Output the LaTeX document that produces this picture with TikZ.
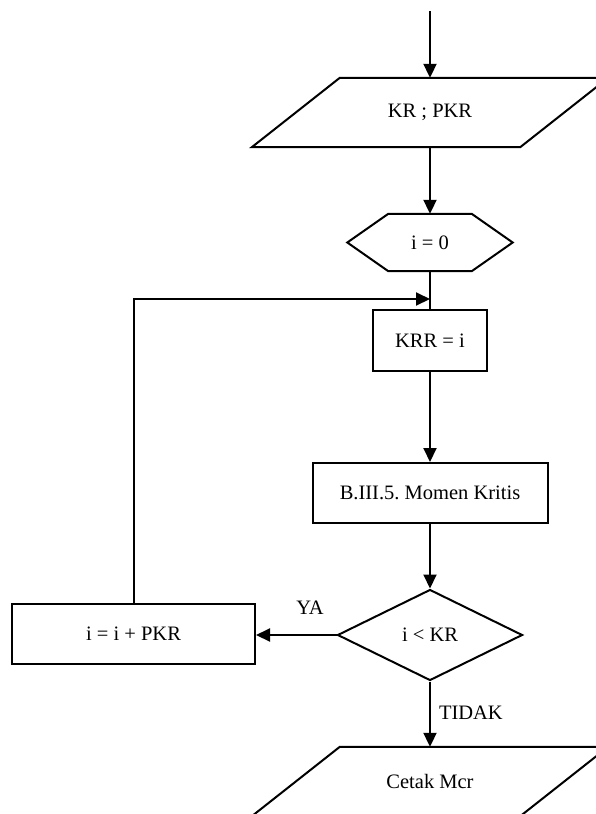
\documentclass[tikz,border=0pt]{standalone}
\usepackage{fontspec}
\setmainfont{Liberation Serif}
\usetikzlibrary{arrows.meta,shapes.geometric,calc}
\frenchspacing
\begin{document}
\begin{tikzpicture}[x=1pt,y=-1pt,
  every node/.style={font=\fontsize{20.5}{24}\selectfont, inner sep=0pt},
  line/.style={line width=2pt},
  flow/.style={line, -{Triangle[length=14pt,width=13pt]}},
  procbox/.style={draw, line width=2pt, rectangle},
]
\clip (0,0) rectangle (596,814);
\useasboundingbox (0,0) rectangle (596,814);

% input: KR ; PKR
\node (input) [minimum width=356pt, minimum height=69pt] at (430,112.5) {KR ; PKR};
\draw[line] ($(input.north west)+(88,0)$) -- (input.north east)
  -- ($(input.south east)+(-88,0)$) -- (input.south west) -- cycle;

% preparation: i = 0
\node (init) [minimum width=165pt, minimum height=57pt] at (430,242.5) {i = 0};
\draw[line] ($(init.north west)+(41,0)$) -- ($(init.north east)+(-41,0)$)
  -- (init.east) -- ($(init.south east)+(-41,0)$)
  -- ($(init.south west)+(41,0)$) -- (init.west) -- cycle;

% process boxes
\node (krr) [procbox, minimum width=114pt, minimum height=61pt] at (430,340.5) {KRR = i};
\node (momen) [procbox, minimum width=235pt, minimum height=60pt] at (430,493) {B.III.5. Momen Kritis};

% decision
\node (dec) [draw, line width=2pt, diamond, minimum width=185pt, minimum height=91pt] at (430,635) {i < KR};

% increment
\node (inc) [procbox, minimum width=243pt, minimum height=60pt] at (133.5,634) {i = i + PKR};

% output: Cetak Mcr
\node (output) [minimum width=356pt, minimum height=69pt] at (430,781.5) {Cetak Mcr};
\draw[line] ($(output.north west)+(88,0)$) -- (output.north east)
  -- ($(output.south east)+(-88,0)$) -- (output.south west) -- cycle;

% connectors
\coordinate (start) at (430,11);
\coordinate (join) at (430,299);
\draw[flow] (start) -- (input.north);
\draw[flow] (input.south) -- (init.north);
\draw[line] (init.south) -- (krr.north);
\draw[flow] (krr.south) -- (momen.north);
\draw[flow] (momen.south) -- (dec.north);
\draw[flow] (dec.west) -- node[pos=0.33, above=20pt] (ya) {YA} (inc.east |- dec.west);
\draw[flow] (inc.north) -- (inc.north |- join) -- (join);
\draw[flow] (dec.south) -- node[right=8pt, pos=0.48] (tidak) {TIDAK} (output.north);
\end{tikzpicture}
\end{document}
